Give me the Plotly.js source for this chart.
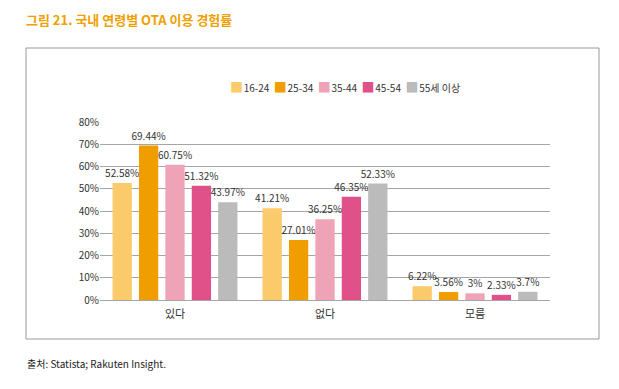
<!DOCTYPE html>
<html><head><meta charset="utf-8">
<script src="https://cdn.plot.ly/plotly-3.0.1.min.js"></script>
<style>html,body{margin:0;padding:0;background:#fff;}#chart{width:619px;height:389px;}</style>
</head><body><div id="chart"></div>
<script>
const categories = ["있다", "없다", "모름"];
const seriesNames = ["16-24", "25-34", "35-44", "45-54", "55세 이상"];
const v1624 = [52.58, 41.21, 6.22];
const v2534 = [69.44, 27.01, 3.56];
const v3544 = [60.75, 36.25, 3];
const v4554 = [51.32, 46.35, 2.33];
const v55 = [43.97, 52.33, 3.7];
const labels1624 = ["52.58%", "41.21%", "6.22%"];
const labels2534 = ["69.44%", "27.01%", "3.56%"];
const labels3544 = ["60.75%", "36.25%", "3%"];
const labels4554 = ["51.32%", "46.35%", "2.33%"];
const labels55 = ["43.97%", "52.33%", "3.7%"];
const colors = ["#FBCB6B", "#F09D00", "#EFA3B6", "#E05189", "#BBBBBB"];

const values = [v1624, v2534, v3544, v4554, v55];
const labels = [labels1624, labels2534, labels3544, labels4554, labels55];
const font = "Noto Sans CJK KR, Noto Sans, sans-serif";

const traces = seriesNames.map((n, i) => ({
  type: "bar", name: n, x: categories, y: values[i],
  text: labels[i], textposition: "outside", cliponaxis: false, constraintext: "none",
  textfont: {size: 10, color: "#333", family: font},
  marker: {color: colors[i]}, hoverinfo: "none"
}));

const L = 100, R = 550, T = 122, B = 300;
const px = x => (x - L) / (R - L);
const py = y => (B - y) / (B - T);

const legendText = seriesNames.map((n, i) =>
  `<span style="color:${colors[i]};font-size:13px">■</span><span style="font-size:3px"> </span>${n}`).join("  ");

const layout = {
  width: 619, height: 389,
  margin: {l: L, r: 619 - R, t: T, b: 389 - B, pad: 0},
  paper_bgcolor: "#fff", plot_bgcolor: "#fff",
  font: {family: font, size: 10, color: "#333"},
  barmode: "group", bargap: 0.12, bargroupgap: 0.27,
  showlegend: false,
  xaxis: {showgrid: false, showline: true, linecolor: "#A6A6A6", linewidth: 1,
    ticks: "", ticklabelstandoff: 4, tickfont: {size: 11, color: "#333"}, fixedrange: true},
  yaxis: {range: [0, 80], dtick: 10, ticksuffix: "%", showgrid: true, gridcolor: "#A6A6A6",
    gridwidth: 1, zeroline: false, showline: false, ticks: "", tickfont: {size: 10, color: "#333"},
    fixedrange: true},
  shapes: [{type: "rect", xref: "paper", yref: "paper", x0: px(26), x1: px(599), y0: py(339), y1: py(48),
    line: {color: "#999", width: 1}, fillcolor: "rgba(0,0,0,0)", layer: "below"}],
  annotations: [
    {text: "<b>그림 21. 국내 연령별 OTA 이용 경험률</b>", xref: "paper", yref: "paper", x: px(24), y: py(20),
     xanchor: "left", yanchor: "middle", showarrow: false, font: {size: 13, color: "#F0A000", family: font}},
    {text: "출처: Statista; Rakuten Insight.", xref: "paper", yref: "paper", x: px(25), y: py(363),
     xanchor: "left", yanchor: "middle", showarrow: false, font: {size: 10, color: "#222", family: font}},
    {text: legendText, xref: "paper", yref: "paper", x: px(228), y: py(86),
     xanchor: "left", yanchor: "middle", showarrow: false, font: {size: 10, color: "#333", family: font}}
  ]
};
Plotly.newPlot("chart", traces, layout, {displayModeBar: false, staticPlot: true});
</script></body></html>
